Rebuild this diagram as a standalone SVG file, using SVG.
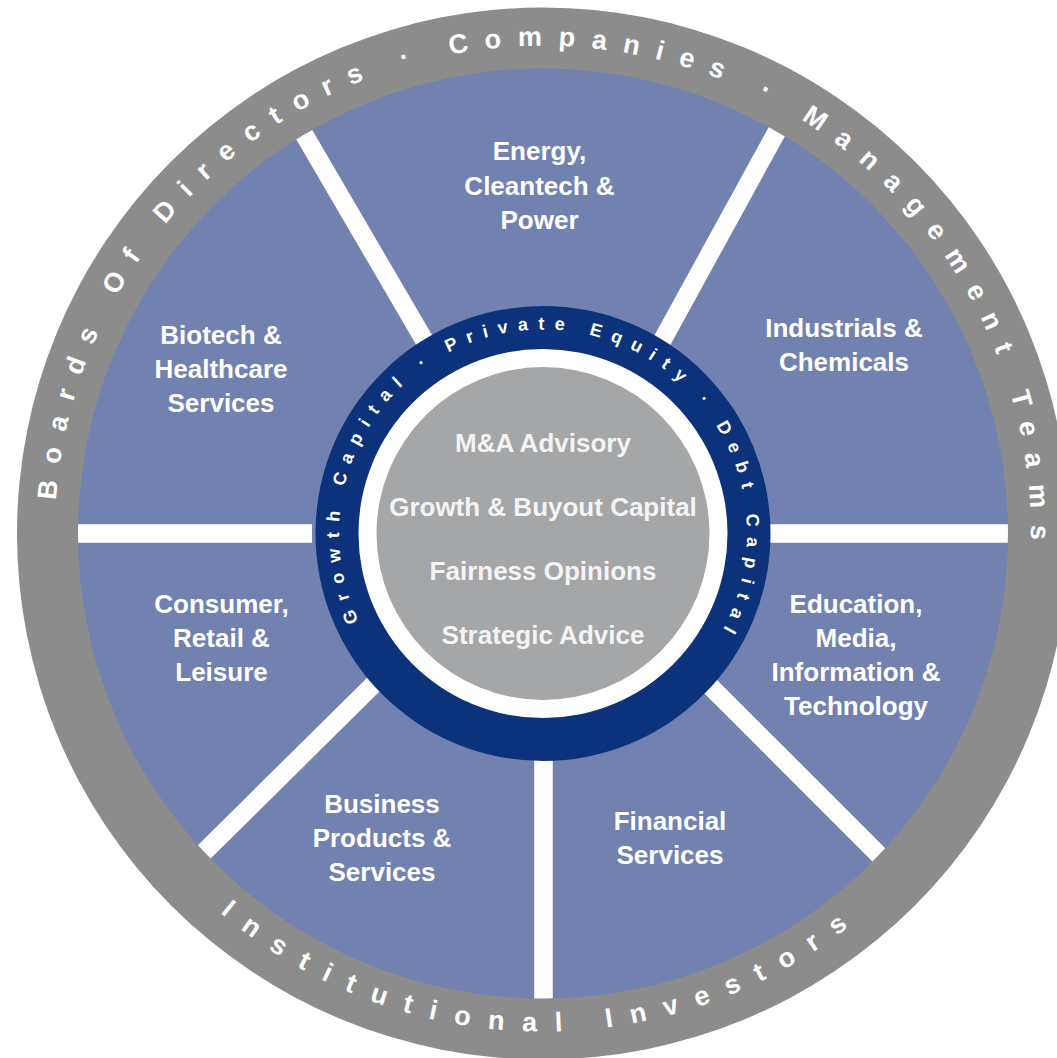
<svg xmlns="http://www.w3.org/2000/svg" width="1057" height="1058" viewBox="0 0 1057 1058">
  <style>
    .lbl { font-family: "Liberation Sans", Arial, sans-serif; font-weight: bold; font-size: 26px; fill: #ffffff; text-anchor: middle; }
    .ctr { font-family: "Liberation Sans", Arial, sans-serif; font-weight: bold; font-size: 26px; fill: #f4f4f4; text-anchor: middle; }
    .ring { font-family: "Liberation Sans", Arial, sans-serif; font-weight: bold; font-size: 27px; fill: #ffffff; }
    .navytxt { font-family: "Liberation Sans", Arial, sans-serif; font-weight: bold; font-size: 18px; fill: #ffffff; letter-spacing: 9.9px; }
    .spoke { stroke: #ffffff; stroke-width: 18.5; stroke-linecap: butt; }
  </style>
  <defs>
    <clipPath id="blueClip">
      <circle cx="543" cy="533.5" r="465"/>
    </clipPath>
    <path id="arcTop" d="M 56.1 500.3 A 488 488 0 1 1 1023.6 618.2"/>
    <path id="arcBottom" d="M 220.2 912.7 A 498 498 0 0 0 924.5 853.6"/>
    <path id="arcNavy" d="M 358.7 621 A 204 204 0 1 1 710.1 650.5"/>
  </defs>

  <g id="outer-ring">
    <circle cx="543" cy="533.5" r="526" fill="#8c8c8c"/>
    <text class="ring" style="letter-spacing:16.3px"><textPath href="#arcTop">Boards Of Directors · Companies · Management Teams</textPath></text>
    <text class="ring" style="letter-spacing:18.15px"><textPath href="#arcBottom">Institutional Investors</textPath></text>
  </g>

  <g id="sectors-base">
    <circle cx="543" cy="533.5" r="465" fill="#7282b0"/>
  </g>

  <g id="connectors" clip-path="url(#blueClip)">
    <line class="spoke" x1="430" y1="350" x2="298" y2="124"/>
    <line class="spoke" x1="657" y1="350" x2="781" y2="124"/>
    <line class="spoke" x1="760" y1="533.5" x2="1015" y2="533.5"/>
    <line class="spoke" x1="700" y1="676" x2="884" y2="860"/>
    <line class="spoke" x1="543.5" y1="740" x2="543.5" y2="1005"/>
    <line class="spoke" x1="380" y1="678" x2="197" y2="859"/>
    <line class="spoke" x1="312" y1="533.5" x2="70" y2="533.5"/>
  </g>

  <g id="node-energy">
    <text class="lbl"><tspan x="539.5" y="160">Energy,</tspan><tspan x="539.5" y="194.5">Cleantech &amp;</tspan><tspan x="539.5" y="229">Power</tspan></text>
  </g>
  <g id="node-industrials">
    <text class="lbl"><tspan x="844" y="337">Industrials &amp;</tspan><tspan x="844" y="371">Chemicals</tspan></text>
  </g>
  <g id="node-education">
    <text class="lbl"><tspan x="856" y="613">Education,</tspan><tspan x="856" y="647">Media,</tspan><tspan x="856" y="681">Information &amp;</tspan><tspan x="856" y="715">Technology</tspan></text>
  </g>
  <g id="node-financial">
    <text class="lbl"><tspan x="670" y="830">Financial</tspan><tspan x="670" y="864">Services</tspan></text>
  </g>
  <g id="node-business">
    <text class="lbl"><tspan x="382" y="813">Business</tspan><tspan x="382" y="847">Products &amp;</tspan><tspan x="382" y="881">Services</tspan></text>
  </g>
  <g id="node-consumer">
    <text class="lbl"><tspan x="221.5" y="613">Consumer,</tspan><tspan x="221.5" y="647">Retail &amp;</tspan><tspan x="221.5" y="681">Leisure</tspan></text>
  </g>
  <g id="node-biotech">
    <text class="lbl"><tspan x="221" y="344">Biotech &amp;</tspan><tspan x="221" y="378">Healthcare</tspan><tspan x="221" y="412">Services</tspan></text>
  </g>

  <g id="node-capital-ring">
    <circle cx="543" cy="533.5" r="227.5" fill="#0b327a"/>
    <text class="navytxt"><textPath href="#arcNavy">Growth Capital · Private Equity · Debt Capital</textPath></text>
  </g>

  <g id="node-services-center">
    <circle cx="543" cy="533.5" r="184.5" fill="#ffffff"/>
    <circle cx="543" cy="533.5" r="166.5" fill="#a4a6a8"/>
    <text class="ctr"><tspan x="543" y="452">M&amp;A Advisory</tspan><tspan x="543" y="516">Growth &amp; Buyout Capital</tspan><tspan x="543" y="580">Fairness Opinions</tspan><tspan x="543" y="644">Strategic Advice</tspan></text>
  </g>
</svg>
